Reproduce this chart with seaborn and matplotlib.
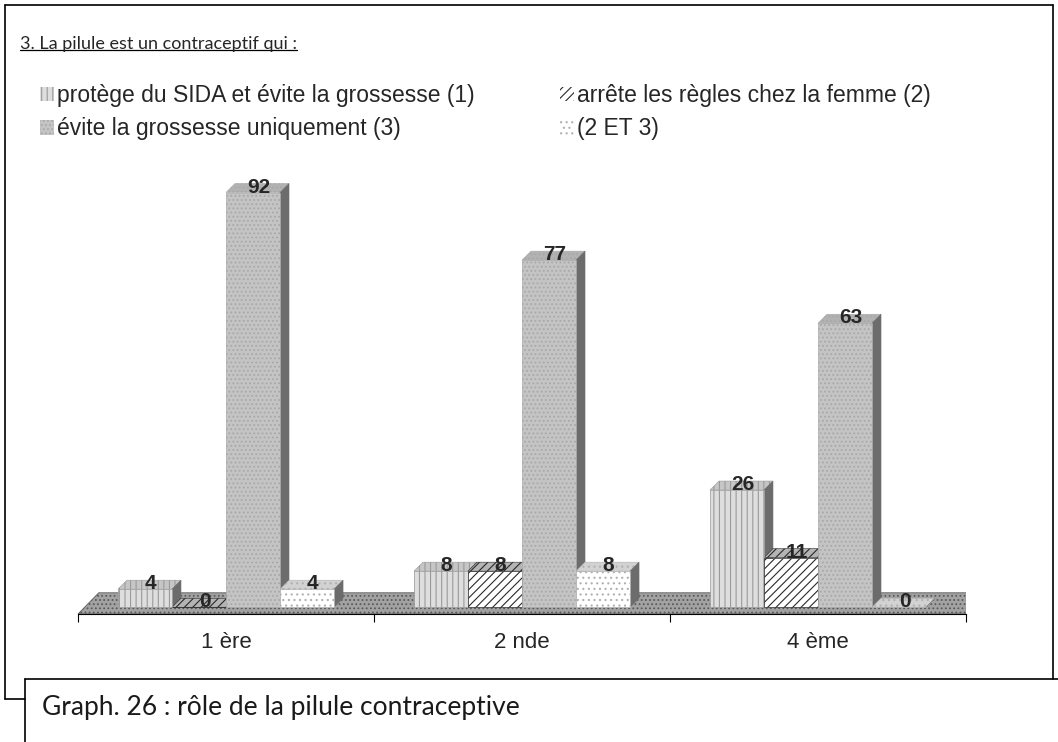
import numpy as np
import pandas as pd
import seaborn as sns
from matplotlib import pyplot as plt
from matplotlib.lines import Line2D
from matplotlib.patches import Polygon, Patch

# data
niveaux = ["1 ère", "2 nde", "4 ème"]
reponses = ["protège du SIDA et évite la grossesse (1)",
            "arrête les règles chez la femme (2)",
            "évite la grossesse uniquement (3)",
            "(2 ET 3)"]
v_sida = [4, 8, 26]
v_regles = [0, 8, 11]
v_grossesse = [92, 77, 63]
v_2et3 = [4, 8, 0]

titre = "3. La pilule est un contraceptif qui :"
legende = "Graph. 26 : rôle de la pilule contraceptive"

# bar styles: face, hatch, hatch/edge colour, top face colour
faces = ["#dedede", "#ffffff", "#c4c4c4", "#ffffff"]
hatches = ["|||", "////", "....", "..."]
edges = ["#9a9a9a", "#2a2a2a", "#a8a8a8", "#b0b0b0"]
tops = ["#c6c6c6", "#b4b4b4", "#b2b2b2", "#d2d2d2"]
side = "#6c6c6c"

df = pd.DataFrame({
    "niveau": niveaux * 4,
    "reponse": np.repeat(reponses, 3),
    "valeur": v_sida + v_regles + v_grossesse + v_2et3,
})

sns.set_theme(style="white")
plt.rcParams["font.family"] = ["Liberation Sans", "DejaVu Sans"]
plt.rcParams["hatch.linewidth"] = 0.8

W, H = 1058, 742
fig = plt.figure(figsize=(W / 100, H / 100), dpi=100)
ax_h = 435
ax = fig.add_axes([78 / W, (H - 614) / H, 888 / W, ax_h / H])
ylo, yhi = -1.5, 95
xlo, xhi = -0.5, 2.5


def fx(x):
    return x / W


def fy(y):
    return 1 - y / H


# depth of the fake 3D effect, in data units (about 9 px)
dx = 9 / (888 / (xhi - xlo))
dy = 9 / (ax_h / (yhi - ylo))

# floor of the 3D chart
floor = Polygon([(xlo, ylo), (xhi, ylo), (xhi + 0.08, 3.2), (xlo + 0.07, 3.2)],
                closed=True, facecolor="#a2a2a2", edgecolor="#5a5a5a",
                lw=0.6, hatch="....", zorder=0.5)
ax.add_patch(floor)

sns.barplot(data=df, x="niveau", y="valeur", hue="reponse",
            order=niveaux, hue_order=reponses, width=0.73,
            dodge=True, legend=False, ax=ax, zorder=2)

for i, cont in enumerate(ax.containers):
    for bar in cont.patches:
        bar.set_facecolor(faces[i])
        bar.set_hatch(hatches[i])
        bar.set_edgecolor(edges[i])
        bar.set_linewidth(0.5)
        x0, w, h = bar.get_x(), bar.get_width(), bar.get_height()
        x1 = x0 + w
        ax.add_patch(Polygon([(x0, h), (x1, h), (x1 + dx, h + dy), (x0 + dx, h + dy)],
                             closed=True, facecolor=tops[i], edgecolor=edges[i],
                             lw=0.4, hatch=hatches[i], zorder=1.9))
        ax.add_patch(Polygon([(x1, 0), (x1 + dx, dy), (x1 + dx, h + dy), (x1, h)],
                             closed=True, facecolor=side, edgecolor=side,
                             lw=0.4, zorder=1.9))
    labs = ax.bar_label(cont, fontsize=15, fontweight="bold", padding=0)
    for t in labs:
        t.xyann = (4, -3)

ax.set_xlim(xlo, xhi)
ax.set_ylim(ylo, yhi)
ax.set_yticks([])
ax.set_xlabel("")
ax.set_ylabel("")
for s in ["top", "right", "left"]:
    ax.spines[s].set_visible(False)
ax.spines["bottom"].set_color("black")
ax.spines["bottom"].set_linewidth(0.8)
ax.set_xticks([-0.5, 0.5, 1.5, 2.5], minor=True)
ax.tick_params(axis="x", which="major", length=0, labelsize=16, pad=13)
ax.tick_params(axis="x", which="minor", length=6, width=0.8, color="black",
               direction="out", bottom=True)

# legends, two columns
handles = [Patch(facecolor=faces[i], hatch=hatches[i], edgecolor=edges[i], lw=0)
           for i in range(4)]
kw = dict(loc="upper left", frameon=False, fontsize=16.5, handlelength=0.6,
          handleheight=0.6, handletextpad=0.15, labelspacing=0.45,
          borderaxespad=0, borderpad=0)
fig.legend([handles[0], handles[2]], [reponses[0], reponses[2]],
           bbox_to_anchor=(fx(40), fy(84)), **kw)
fig.legend([handles[1], handles[3]], [reponses[1], reponses[3]],
           bbox_to_anchor=(fx(560), fy(84)), **kw)

# title (underlined) and caption
t = fig.text(fx(20), fy(44), titre, fontsize=13, family=["Lato", "DejaVu Sans"],
             va="center", ha="left")
fig.text(fx(42), fy(708), legende, fontsize=19, family=["Lato", "DejaVu Sans"],
         va="center", ha="left", color="#1a1a1a")

# frames
frame = dict(color="black", lw=1.2, transform=fig.transFigure)
fig.add_artist(Line2D([fx(5), fx(1053)], [fy(5), fy(5)], **frame))
fig.add_artist(Line2D([fx(5), fx(5)], [fy(5), fy(699)], **frame))
fig.add_artist(Line2D([fx(1053), fx(1053)], [fy(5), fy(679)], **frame))
fig.add_artist(Line2D([fx(5), fx(25)], [fy(699), fy(699)], **frame))
fig.add_artist(Line2D([fx(25), fx(1058)], [fy(679), fy(679)], **frame))
fig.add_artist(Line2D([fx(25), fx(25)], [fy(679), fy(742)], **frame))

fig.canvas.draw()
bb = t.get_window_extent().transformed(fig.transFigure.inverted())
fig.add_artist(Line2D([bb.x0, bb.x1], [bb.y0 + 0.003, bb.y0 + 0.003], color="black",
                      lw=0.9, transform=fig.transFigure))

fig.savefig("out.png", dpi=100)
